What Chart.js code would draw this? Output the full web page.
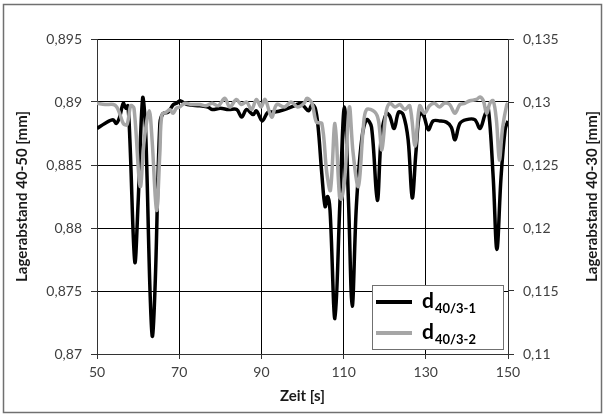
<!DOCTYPE html>
<html>
<head>
<meta charset="utf-8">
<script src="https://cdn.jsdelivr.net/npm/chart.js@4"></script>
<style>
  html, body { margin: 0; padding: 0; background: #fff; }
  canvas { display: block; }
</style>
</head>
<body>
<canvas id="c" width="606" height="417"></canvas>
<script>
// ---- data ----
const xTicks = [50, 70, 90, 110, 130, 150];
const yLeftTicks = [0.87, 0.875, 0.88, 0.885, 0.89, 0.895];
const yRightTicks = [0.11, 0.115, 0.12, 0.125, 0.13, 0.135];

const seriesNames = ['d40/3-1', 'd40/3-2'];
const legendMain = ['d', 'd'];
const legendSub = ['40/3-1', '40/3-2'];

// d40/3-1 (left axis)
const time1 = [50, 51.9, 53.9, 54.7, 55.5, 56.4, 57.0, 57.5, 58.0, 59.2, 60.0, 61.1, 61.8, 62.9, 63.5, 64.2, 65.3, 66.1, 67.3, 68.6, 69.4, 70.2,
  72, 75, 77, 78, 80, 82, 84, 85.2, 86.4, 88, 88.8, 90.2, 91.6, 93.2, 95.6, 98, 99.6, 100.5, 101.5, 102.3, 103.1, 103.8, 104.7,
  105.5, 106.1, 106.7, 107.9, 109.1, 110.2, 111.2, 112.1, 113.1, 114.4, 115.6, 116.8, 118.2, 119.2, 120.4, 121.2, 122.3, 123.4,
  124.5, 125.7, 126.7, 127.6, 128.5, 129.5, 130.6, 131.8, 133.4, 135, 136.2, 137.1, 138.3, 139.9, 141.9, 143.2, 144.4, 145.2,
  146.4, 147.3, 148.3, 149.3, 150];
const value1 = [0.8879, 0.8883, 0.8886, 0.8883, 0.8888, 0.8899, 0.8895, 0.8897, 0.8870, 0.8773, 0.8820, 0.8903, 0.8880, 0.8750, 0.8714, 0.8760, 0.8883, 0.8891, 0.8892, 0.8898, 0.8899, 0.8901,
  0.8898, 0.8897, 0.8896, 0.8894, 0.8895, 0.8894, 0.8894, 0.8888, 0.8894, 0.8890, 0.8893, 0.8885, 0.8892, 0.8892, 0.8894, 0.8897, 0.8899, 0.8896, 0.8893, 0.8898, 0.8895, 0.8880, 0.8843,
  0.8817, 0.8825, 0.8814, 0.8728, 0.8820, 0.8896, 0.8820, 0.8738, 0.8817, 0.8870, 0.8886, 0.8880, 0.8822, 0.8874, 0.8891, 0.8889, 0.8879, 0.8892,
  0.8890, 0.8870, 0.8824, 0.8860, 0.8891, 0.8889, 0.8878, 0.8885, 0.8885, 0.8884, 0.8880, 0.8870, 0.8883, 0.8886, 0.8886, 0.8879, 0.8890, 0.8895,
  0.8840, 0.8783, 0.8840, 0.8878, 0.8885];

// d40/3-2 (right axis)
const time2 = [50, 52, 54, 54.8, 55.5, 56.4, 57.3, 58.2, 59.0, 60.5, 61.5, 62.7, 63.4, 64.5, 65.3, 65.8, 66.9, 67.7, 68.5, 69.3, 70.1,
  71.4, 73, 75, 76.5, 78, 79.5, 81.1, 82.3, 83.9, 85.1, 86.4, 87.6, 88.8, 89.9, 90.9, 92.5, 93.7, 95.6, 97.2, 98.8, 100.4,
  101.1, 102.3, 103.4, 104.7, 105.9, 106.8, 107.9, 109.0, 109.5, 110.3, 111.4, 112.3, 113.6, 114.8, 115.6, 117.6, 118.5, 119.3,
  120.4, 121.3, 122.5, 123.7, 124.9, 126.1, 127.4, 128.5, 129.7, 130.9, 132.1, 133.3, 134.5, 135.8, 137.1, 138.3, 139.5, 140.7,
  142.3, 143.2, 144.0, 144.8, 145.6, 146.4, 147.2, 147.9, 148.7, 149.7, 150];
const value2 = [0.1299, 0.1298, 0.1298, 0.1296, 0.1291, 0.1283, 0.1282, 0.1297, 0.1295, 0.1233, 0.1270, 0.1293, 0.1270, 0.1214, 0.1260, 0.1290, 0.1292, 0.1294, 0.1291, 0.1295, 0.1296,
  0.1299, 0.1298, 0.1298, 0.1297, 0.1299, 0.1297, 0.1303, 0.1296, 0.1302, 0.1298, 0.1300, 0.1294, 0.1302, 0.1296, 0.1302, 0.1288, 0.1298, 0.1296, 0.1300, 0.1296, 0.1299,
  0.1303, 0.1299, 0.1284, 0.1283, 0.1244, 0.1230, 0.1283, 0.1225, 0.1223, 0.1240, 0.1296, 0.1260, 0.1233, 0.1280, 0.1294, 0.1292, 0.1285, 0.1262,
  0.1293, 0.1299, 0.1296, 0.1298, 0.1294, 0.1297, 0.1265, 0.1297, 0.1291, 0.1297, 0.1299, 0.1296, 0.1299, 0.1298, 0.1291, 0.1298, 0.1299, 0.1301,
  0.1302, 0.1304, 0.1301, 0.1291, 0.1299, 0.1301, 0.1285, 0.1254, 0.1280, 0.1298, 0.1299];

const xTitle = 'Zeit [s]';
const yLeftTitle = 'Lagerabstand 40-50 [mm]';
const yRightTitle = 'Lagerabstand 40-30 [mm]';

// ---- chart ----
const colors = ['#000000', '#a6a6a6'];
const FONT = 'Lato, "Open Sans", sans-serif';
const fmt = v => String(Number(v.toFixed(3))).replace('.', ',');

const toPts = (ts, vs) => ts.map((t, i) => ({ x: t, y: vs[i] }));

const tickFont = { family: FONT, size: 14 };
const titleFont = { family: FONT, size: 15, weight: 'bold' };

const framePlugin = {
  id: 'frame',
  beforeDraw(chart) {
    const ctx = chart.ctx;
    ctx.save();
    ctx.fillStyle = '#fff';
    ctx.fillRect(0, 0, chart.width, chart.height);
    ctx.strokeStyle = '#707070';
    ctx.lineWidth = 1.5;
    ctx.strokeRect(3.5, 4.5, 598, 408);
    ctx.restore();
  },
  afterDraw(chart) {
    // right axis title, reading bottom-to-top like the left one
    const s = chart.scales.y2;
    const ctx = chart.ctx;
    ctx.save();
    ctx.translate(s.right - 14, (s.top + s.bottom) / 2);
    ctx.rotate(-Math.PI / 2);
    ctx.font = 'bold 15px ' + FONT;
    ctx.fillStyle = '#1a1a1a';
    ctx.textAlign = 'center';
    ctx.textBaseline = 'middle';
    ctx.fillText(yRightTitle, 0, 0);
    ctx.restore();
  }
};

const legendPlugin = {
  id: 'subLegend',
  afterDraw(chart) {
    const ctx = chart.ctx;
    const bx = 372, by = 285, bw = 131, bh = 64;
    ctx.save();
    ctx.fillStyle = '#fff';
    ctx.fillRect(bx, by, bw, bh);
    ctx.strokeStyle = '#707070';
    ctx.lineWidth = 1;
    ctx.strokeRect(bx + 0.5, by + 0.5, bw, bh);
    chart.data.datasets.forEach((ds, i) => {
      const cy = by + 17 + i * 31;
      ctx.strokeStyle = ds.borderColor;
      ctx.lineWidth = 4;
      ctx.beginPath();
      ctx.moveTo(bx + 4, cy);
      ctx.lineTo(bx + 40, cy);
      ctx.stroke();
      ctx.fillStyle = '#000';
      ctx.textBaseline = 'alphabetic';
      ctx.font = 'bold 21px ' + FONT;
      ctx.fillText(legendMain[i], bx + 50, cy + 6);
      const w = ctx.measureText(legendMain[i]).width;
      ctx.font = 'bold 13px ' + FONT;
      ctx.fillText(legendSub[i], bx + 51 + w, cy + 11);
    });
    ctx.restore();
  }
};

new Chart(document.getElementById('c'), {
  type: 'line',
  data: {
    datasets: [
      { label: seriesNames[0], data: toPts(time1, value1), yAxisID: 'y', borderColor: colors[0], borderWidth: 3.5, pointRadius: 0, tension: 0.35, fill: false, order: 2 },
      { label: seriesNames[1], data: toPts(time2, value2), yAxisID: 'y2', borderColor: colors[1], borderWidth: 3.5, pointRadius: 0, tension: 0.35, fill: false, order: 1 }
    ]
  },
  options: {
    responsive: false,
    animation: false,
    layout: { padding: { top: 39, left: 0, right: 0, bottom: 0 } },
    plugins: { legend: { display: false }, tooltip: { enabled: false } },
    scales: {
      x: {
        type: 'linear', min: 50, max: 150,
        afterBuildTicks: s => { s.ticks = xTicks.map(v => ({ value: v })); },
        afterFit: s => { s.height = 63; },
        ticks: { font: tickFont, color: '#404040', padding: 5, maxRotation: 0 },
        grid: { color: '#000', lineWidth: 1, borderDash: [4, 3], tickLength: 5, tickBorderDash: [], tickColor: '#333' },
        border: { display: true, color: '#333', width: 1 },
        title: { display: true, text: xTitle, font: titleFont, color: '#1a1a1a', padding: { top: 0, bottom: 12 } }
      },
      y: {
        position: 'left', min: 0.87, max: 0.895,
        afterBuildTicks: s => { s.ticks = yLeftTicks.map(v => ({ value: v })); },
        afterFit: s => { s.width = 97; },
        ticks: { font: tickFont, color: '#404040', padding: 9, callback: v => fmt(v) },
        grid: { color: '#000', lineWidth: 1, borderDash: [4, 3], tickLength: 6, tickBorderDash: [], tickColor: '#333' },
        border: { display: true, color: '#333', width: 1 },
        title: { display: true, text: yLeftTitle, font: titleFont, color: '#1a1a1a', padding: { top: 13, bottom: 0 } }
      },
      y2: {
        position: 'right', min: 0.11, max: 0.135,
        afterBuildTicks: s => { s.ticks = yRightTicks.map(v => ({ value: v })); },
        afterFit: s => { s.width = 98; },
        ticks: { font: tickFont, color: '#404040', padding: 9, callback: v => fmt(v) },
        grid: { drawOnChartArea: false, tickLength: 6, tickColor: '#333' },
        border: { display: true, color: '#333', width: 1 },
        title: { display: false }
      }
    }
  },
  plugins: [framePlugin, legendPlugin]
});
</script>
</body>
</html>
